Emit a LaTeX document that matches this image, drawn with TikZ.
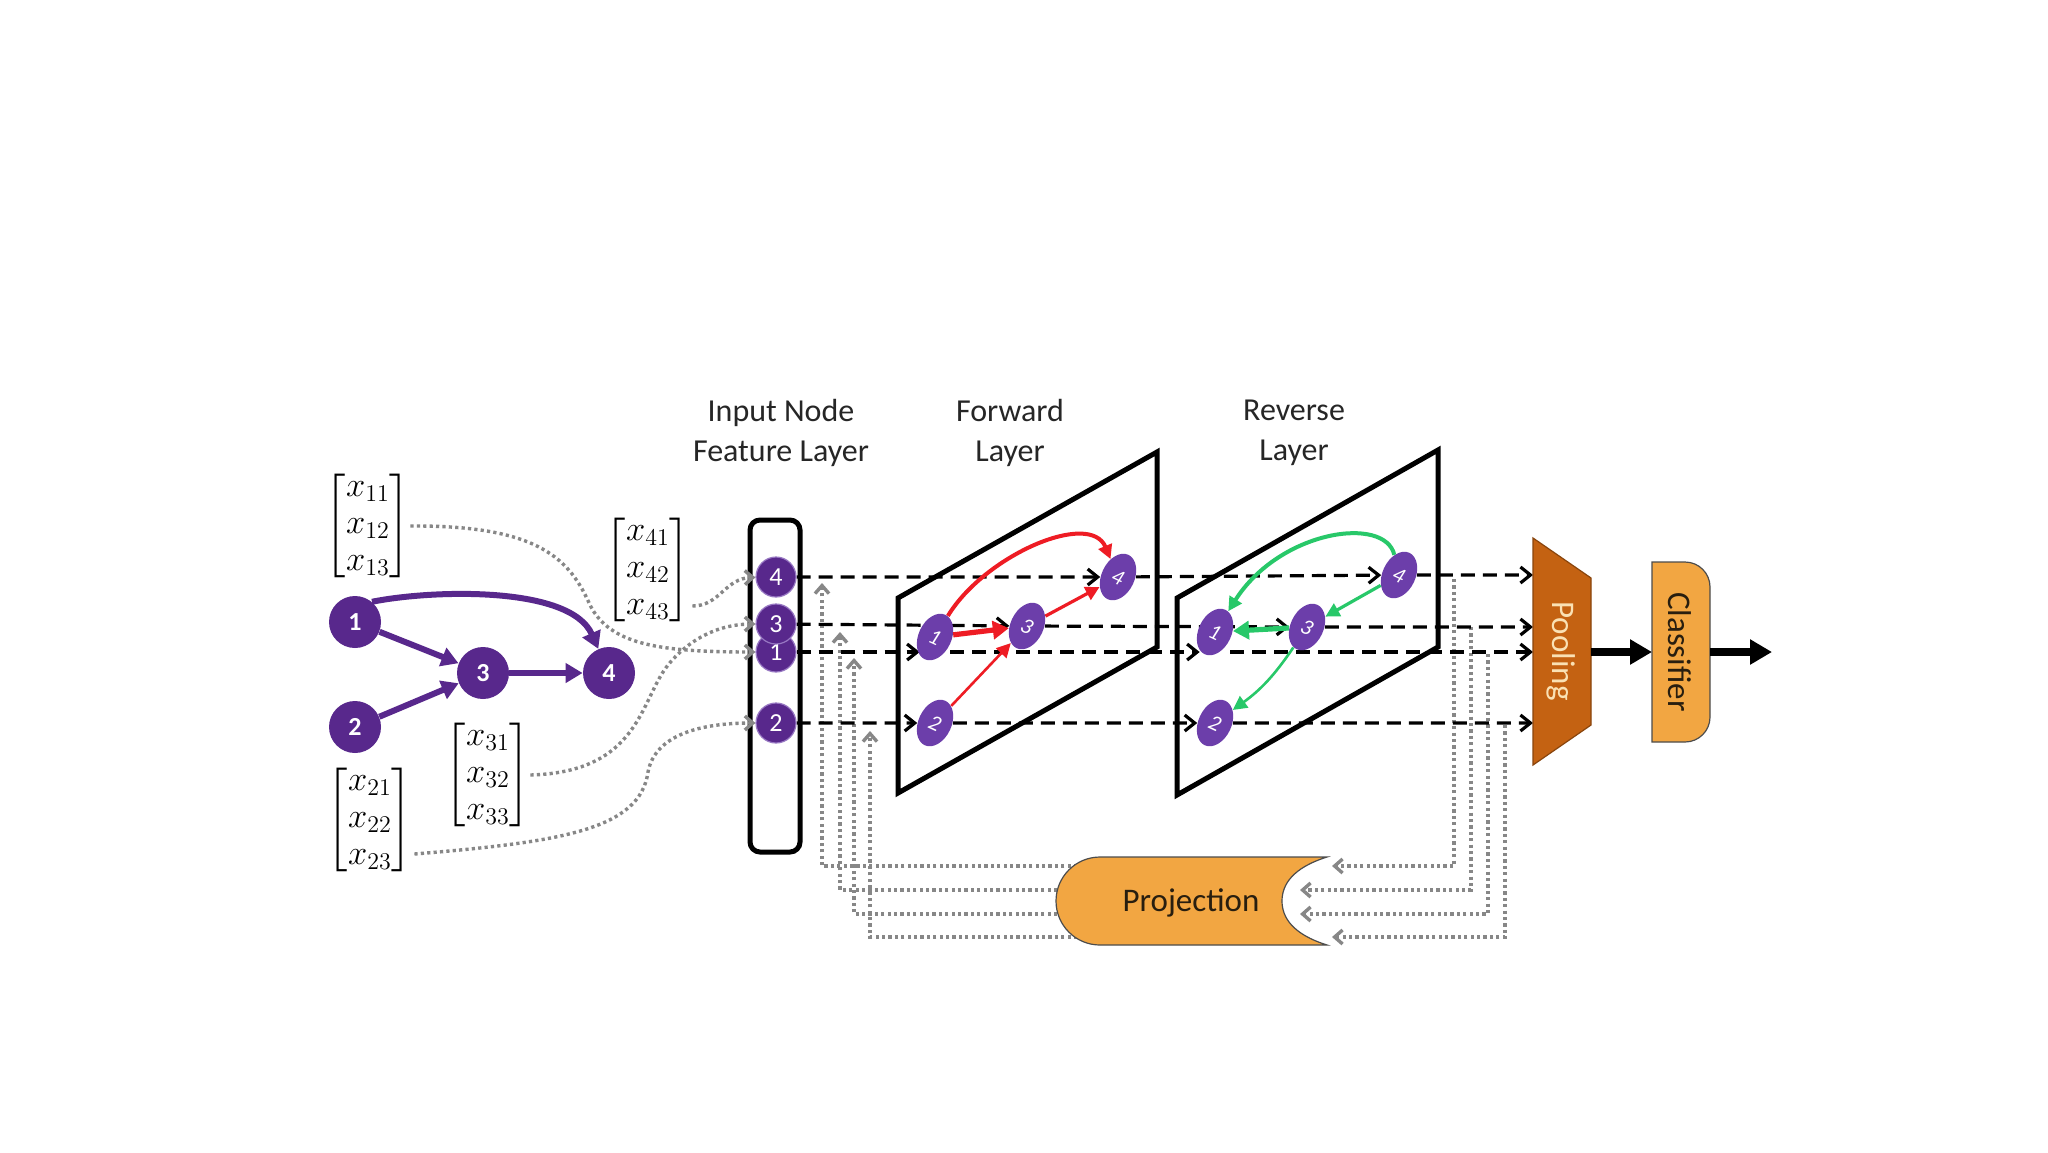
\documentclass[tikz,border=0pt]{standalone}
\usepackage{amsmath}
\usepackage{fontspec}
\setmainfont{Carlito}
\usetikzlibrary{arrows.meta,calc,shapes.geometric}
\definecolor{purp}{RGB}{88,40,140}
\definecolor{epurp}{RGB}{108,62,170}
\definecolor{redc}{RGB}{238,28,36}
\definecolor{greenc}{RGB}{40,200,105}
\definecolor{poolc}{RGB}{196,98,18}
\definecolor{pooltext}{RGB}{250,225,180}
\definecolor{orangec}{RGB}{242,166,66}
\definecolor{dotc}{RGB}{135,135,135}
\definecolor{darktext}{RGB}{40,30,15}
\pgfdeclarelayer{back}
\pgfsetlayers{back,main}
\tikzset{
  bignode/.style={circle, fill=purp, minimum size=26pt, inner sep=0pt, text=white, font=\fontsize{13}{13}\selectfont\bfseries},
  innode/.style={circle, fill=purp, draw=epurp!70, line width=0.6pt, minimum size=20pt, inner sep=0pt, text=white, font=\fontsize{13}{13}\selectfont},
  lnode/.style={ellipse, fill=epurp, minimum width=16.5pt, minimum height=24.5pt, inner sep=0pt, rotate=-25, text=white, font=\fontsize{11}{11}\selectfont\itshape},
  purparr/.style={purp, line width=3pt, -{Triangle[length=8.5pt,width=9.5pt]}},
  dasharr/.style={black, line width=1.6pt, dash pattern=on 7pt off 4pt, -{Straight Barb[length=5pt,width=8pt]}},
  dotline/.style={dotc, line width=1.7pt, dash pattern=on 1.6pt off 1.6pt},
  dotarr/.style={dotline, -{Straight Barb[length=4pt,width=7pt]}},
  redarr/.style={redc, line width=1.6pt, -{Triangle[length=7pt,width=7pt]}},
  greenarr/.style={greenc, line width=1.6pt, -{Triangle[length=7pt,width=7pt]}},
  layerbox/.style={line width=2.5pt, line join=miter},
  lbl/.style={font=\fontsize{16}{20}\selectfont, align=center, text=black!85},
  mat/.style={font=\fontsize{17.28}{18.5}\selectfont, inner sep=0pt},
  bigarr/.style={black, line width=4pt, -{Triangle[length=11pt,width=12pt]}},
  boxtext/.style={font=\fontsize{16.5}{16.5}\selectfont},
}
\begin{document}
\begin{tikzpicture}[x=0.5pt,y=-0.5pt]
\useasboundingbox (0,0) rectangle (2048,1152);
\begin{pgfonlayer}{back}
\fill[white] (0,0) rectangle (2048,1152);
\end{pgfonlayer}

% labels
\node[lbl] (lin) at (781,433) {Input Node\\Feature Layer};
\node[lbl] (lfw) at (1010,433) {Forward\\Layer};
\node[lbl] (lrv) at (1294,433) {Reverse\\Layer};

% small graph
\node[bignode] (g1) at (355,622) {1};
\node[bignode] (g2) at (355,727) {2};
\node[bignode] (g3) at (483,673) {3};
\node[bignode] (g4) at (609,673) {4};
\draw[purparr] (g1) -- (g3);
\draw[purparr] (g2) -- (g3);
\draw[purparr] (g3) -- (g4);
\draw[purparr] (g1.50) .. controls (430,590) and (570,585) .. (g4);

% feature vectors
\node[mat] (m1) at (368,526) {\setlength\arraycolsep{1.5pt}$\begin{bmatrix}x_{11}\\x_{12}\\x_{13}\end{bmatrix}$};
\node[mat] (m4) at (648,570) {\setlength\arraycolsep{1.5pt}$\begin{bmatrix}x_{41}\\x_{42}\\x_{43}\end{bmatrix}$};
\node[mat] (m3) at (488,775) {\setlength\arraycolsep{1.5pt}$\begin{bmatrix}x_{31}\\x_{32}\\x_{33}\end{bmatrix}$};
\node[mat] (m2) at (370,820) {\setlength\arraycolsep{1.5pt}$\begin{bmatrix}x_{21}\\x_{22}\\x_{23}\end{bmatrix}$};

% input feature layer
\begin{pgfonlayer}{back}
\node[draw, line width=2.5pt, rounded corners=5pt, minimum width=25pt, minimum height=166pt, inner sep=0pt] (inbox) at (775,686) {};
\end{pgfonlayer}
\node[innode] (in1) at (776,652) {1};
\node[innode] (in3) at (776,624) {3};
\node[innode] (in4) at (776,577) {4};
\node[innode] (in2) at (776,723) {2};

% layer nodes
\node[lnode] (f1) at (935,637) {1};
\node[lnode] (f3) at (1027,626) {3};
\node[lnode] (f4) at (1118,577) {4};
\node[lnode] (f2) at (935,723) {2};
\node[lnode] (r1) at (1215,632) {1};
\node[lnode] (r3) at (1307,627) {3};
\node[lnode] (r4) at (1399,575) {4};
\node[lnode] (r2) at (1215,723) {2};

% coordinates
\coordinate (poolL) at (1533,650);
\coordinate (poolR) at (1591,652);
\coordinate (clsL) at (1652,652);
\coordinate (clsR) at (1710,652);
\coordinate (outC) at (1772,652);
\coordinate (v4) at (1454,579);
\coordinate (v3) at (1471,627);
\coordinate (v1) at (1488,654);
\coordinate (v2) at (1505,725);
\coordinate (pr4) at (1332,866);
\coordinate (pr3) at (1300,890);
\coordinate (pr1) at (1300,914);
\coordinate (pr2) at (1332,937);
\coordinate (pl4) at (1090,866);
\coordinate (pl3) at (1070,890);
\coordinate (pl1) at (1070,914);
\coordinate (pl2) at (1090,937);
\coordinate (u4) at (822,583);
\coordinate (u3) at (840,632);
\coordinate (u1) at (854,658);
\coordinate (u2) at (870,731);

\begin{pgfonlayer}{back}
% layer planes
\draw[layerbox] (898,598) -- (1157,452) -- (1157,647) -- (898,793) -- cycle;
\draw[layerbox] (1177,598) -- (1438,450) -- (1438,647) -- (1177,795) -- cycle;
% dotted feedback
\draw[dotarr] (v4) |- (pr4);
\draw[dotarr] (v3) |- (pr3);
\draw[dotarr] (v1) |- (pr1);
\draw[dotarr] (v2) |- (pr2);
\draw[dotarr] (pl4) -| (u4);
\draw[dotarr] (pl3) -| (u3);
\draw[dotarr] (pl1) -| (u1);
\draw[dotarr] (pl2) -| (u2);
% dotted inputs
\draw[dotarr] (m1.east) .. controls (540,525) and (570,560) .. (590,605) .. controls (610,645) and (660,652) .. (in1);
\draw[dotarr] ($(m4.east)+(2,36)$) .. controls (720,606) and (725,578) .. (in4);
\draw[dotarr] (m3.east) .. controls (640,772) and (640,700) .. (668,665) .. controls (690,638) and (720,624) .. (in3);
\draw[dotarr] ($(m2.east)+(2,34)$) .. controls (560,842) and (640,830) .. (648,772) .. controls (655,735) and (700,723) .. (in2);
% dashed rows
\draw[dasharr] (in4) -- (f4);
\draw[dasharr] (f4) -- (r4);
\draw[dasharr] (r4) -- (r4 -| poolL);
\draw[dasharr] (in3) -- (f3);
\draw[dasharr] (f3) -- (r3);
\draw[dasharr] (r3) -- (r3 -| poolL);
\draw[dasharr] (in1) -- (in1 -| f1.west);
\draw[dasharr] (f1.east |- in1) -- (in1 -| r1.west);
\draw[dasharr] (r1.east |- in1) -- (in1 -| poolL);
\draw[dasharr] (in2) -- (f2);
\draw[dasharr] (f2) -- (r2);
\draw[dasharr] (r2) -- (r2 -| poolL);
\end{pgfonlayer}

% forward edges
\draw[redarr, line width=2.6pt, -{Triangle[length=8pt,width=9pt]}] (f1) -- (f3);
\draw[redarr] (f3) -- (f4);
\draw[redarr, line width=1.3pt] (f2) -- (f3);
\draw[redarr, line width=2pt] (f1) .. controls (985,555) and (1090,510) .. (f4);
% reverse edges
\draw[greenarr, line width=2.6pt, -{Triangle[length=8pt,width=9pt]}] (r3) -- (r1);
\draw[greenarr] (r4) -- (r3);
\draw[greenarr, line width=1.3pt] (r3) to[bend left=10] (r2);
\draw[greenarr, line width=2pt] (r4) .. controls (1385,515) and (1280,530) .. (r1);

% pooling, classifier
\draw[fill=poolc, draw=poolc!70!black, line width=0.6pt] (1533,538) -- (1591,578) -- (1591,725) -- (1533,765) -- cycle;
\node[rotate=-90, text=pooltext, boxtext] (pool) at (1561,651) {Pooling};
\draw[fill=orangec, draw=black!70, line width=0.6pt] (1652,742) -- (1652,562) -- (1685,562) arc[start angle=-90,end angle=0,radius=25] -- (1710,717) arc[start angle=0,end angle=90,radius=25] -- cycle;
\node[rotate=-90, text=darktext, boxtext] (cls) at (1680,652) {Classifier};
\draw[bigarr] (poolR) -- (clsL);
\draw[bigarr] (clsR) -- (outC);

% projection
\draw[fill=orangec, draw=black!70, line width=0.6pt] (1100,857) -- (1327,857) .. controls (1292,868) and (1282,885) .. (1282,901) .. controls (1282,917) and (1292,934) .. (1327,945) -- (1100,945) arc[start angle=90,end angle=270,radius=44] -- cycle;
\node[text=darktext, boxtext] (proj) at (1191,903) {Projection};
\end{tikzpicture}
\end{document}
